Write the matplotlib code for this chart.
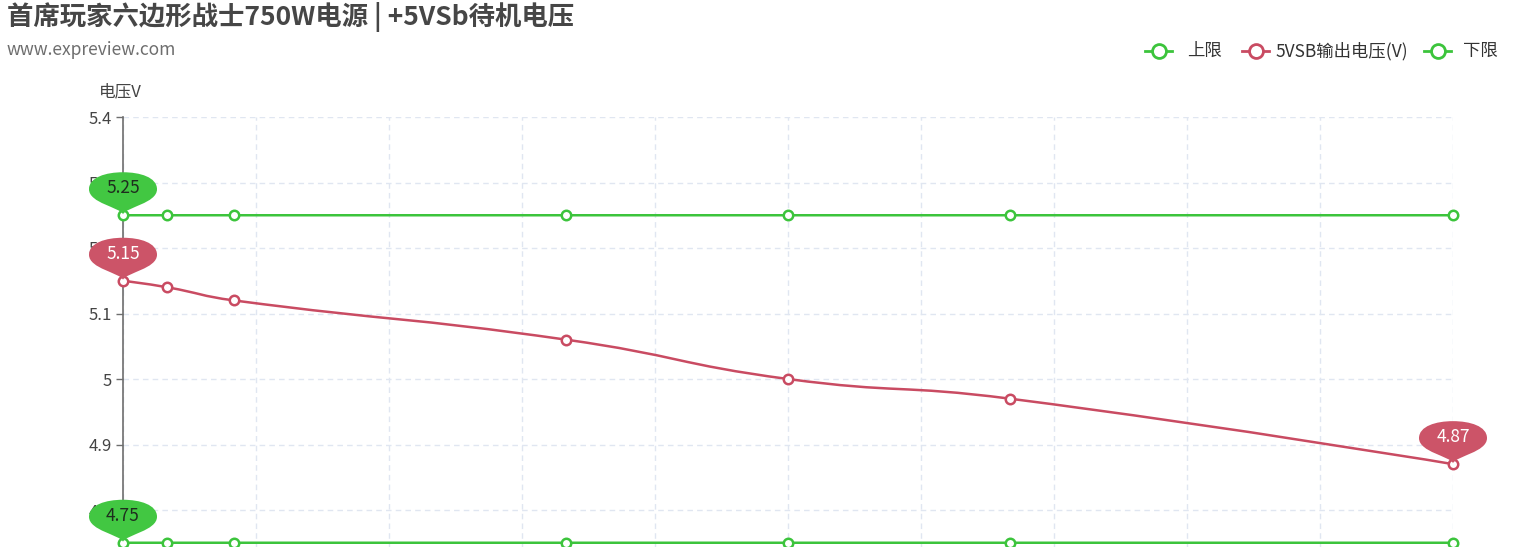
import numpy as np
import matplotlib.pyplot as plt
from matplotlib.lines import Line2D
from matplotlib.path import Path
from matplotlib.patches import PathPatch
import matplotlib.transforms as mtransforms

plt.rcParams['font.family'] = ['Noto Sans CJK SC', 'DejaVu Sans']

# data
current = [0, 0.1, 0.25, 1, 1.5, 2, 3]
upper = [5.25, 5.25, 5.25, 5.25, 5.25, 5.25, 5.25]
vsb = [5.15, 5.14, 5.12, 5.06, 5.00, 4.97, 4.87]
lower = [4.75, 4.75, 4.75, 4.75, 4.75, 4.75, 4.75]
yticks = [4.8, 4.9, 5.0, 5.1, 5.2, 5.3, 5.4]
ytick_labels = ['4.8', '4.9', '5', '5.1', '5.2', '5.3', '5.4']

title = '首席玩家六边形战士750W电源 | +5VSb待机电压'
subtitle = 'www.expreview.com'
legend_names = ['上限', '5VSB输出电压(V)', '下限']

GREEN = '#3cc43c'
RED = '#c94b62'
W, H = 1539, 547

fig = plt.figure(figsize=(W / 100, H / 100), dpi=100)
# plot area: x 123..1453 px, 5.4 at y=117, 4.7 at y=575.5 (below the picture edge)
ax = fig.add_axes([123 / W, (H - 575.5) / H, 1330 / W, 458.5 / H])
ax.set_xlim(0, 3)
ax.set_ylim(4.7, 5.4)

ax.set_xticks(np.arange(0, 3.01, 0.3))
ax.set_yticks(yticks)
ax.set_yticklabels(ytick_labels)
ax.tick_params(axis='y', length=5, width=1, color='#6e6e6e', labelsize=12,
               labelcolor='#444444', pad=3)
ax.tick_params(axis='x', length=0, labelbottom=False)
ax.grid(True, color='#e0e6f1', linestyle=(0, (4, 3)), linewidth=1)
ax.set_axisbelow(True)
for s in ['top', 'right', 'bottom']:
    ax.spines[s].set_visible(False)
ax.spines['left'].set_color('#6e6e6e')
ax.spines['left'].set_linewidth(1.2)

ax.text(-0.006, 5.425, '电压V', ha='center', va='bottom', fontsize=12,
        color='#444444', transform=ax.transData)


def smooth_path(xs, ys, s=0.5):
    # bezier through the points, control points like echarts' smooth line
    P = ax.transData.transform(np.column_stack([xs, ys]))
    n = len(P)
    verts = [P[0]]
    codes = [Path.MOVETO]
    cps = []
    for i in range(n):
        if i == 0 or i == n - 1:
            cps.append((P[i], P[i]))
            continue
        v = P[i + 1] - P[i - 1]
        d0 = np.hypot(*(P[i] - P[i - 1]))
        d1 = np.hypot(*(P[i + 1] - P[i]))
        tot = d0 + d1
        cps.append((P[i] - v * s * d0 / tot, P[i] + v * s * d1 / tot))
    for i in range(1, n):
        verts += [cps[i - 1][1], cps[i][0], P[i]]
        codes += [Path.CURVE4] * 3
    verts = ax.transData.inverted().transform(np.array(verts))
    return Path(verts, codes)


for ys, col in [(upper, GREEN), (vsb, RED), (lower, GREEN)]:
    ax.add_patch(PathPatch(smooth_path(current, ys), facecolor='none',
                           edgecolor=col, lw=1.8, zorder=3, clip_on=False))
    ax.plot(current, ys, linestyle='none', marker='o', ms=6.8, mfc='white',
            mec=col, mew=1.8, zorder=4, clip_on=False)

# pin balloon (pixel offsets from the point)
pin_verts = [(0, 1), (-3, 8), (-34, 12), (-34, 26), (-34, 38), (-17, 43), (0, 43),
             (17, 43), (34, 38), (34, 26), (34, 12), (3, 8), (0, 1), (0, 1)]
pin_codes = [Path.MOVETO] + [Path.CURVE4] * 12 + [Path.CLOSEPOLY]
pin = Path(pin_verts, pin_codes)


def mark_point(x, y, col, txt_col):
    tr = mtransforms.Affine2D() + mtransforms.ScaledTranslation(x, y, ax.transData)
    ax.add_patch(PathPatch(pin, facecolor=col, edgecolor='none', zorder=6,
                           transform=tr, clip_on=False))
    ax.text(0, 27, f'{y:g}', ha='center', va='center', fontsize=12.5, color=txt_col,
            transform=tr, zorder=7, clip_on=False)


mark_point(current[0], upper[0], '#42c742', '#1e2e1e')
mark_point(current[0], vsb[0], '#cc5468', 'white')
mark_point(current[-1], vsb[-1], '#cc5468', 'white')
mark_point(current[0], lower[0], '#42c742', '#1e2e1e')

fig.text(7 / W, 1 - 17 / H, title, fontsize=19, fontweight='bold', color='#464646',
         va='center', ha='left')
fig.text(7 / W, 1 - 50 / H, subtitle, fontsize=12.5, color='#6e6e6e',
         va='center', ha='left')

# legend
leg_y = 1 - 51 / H
leg_items = [(1145, 1187, GREEN), (1242, 1275, RED), (1424, 1463, GREEN)]
for (ix, tx, col), name in zip(leg_items, legend_names):
    fig.add_artist(Line2D([ix / W, (ix + 27) / W], [leg_y, leg_y], color=col, lw=2,
                          transform=fig.transFigure))
    fig.add_artist(Line2D([(ix + 13.5) / W], [leg_y], marker='o', ms=10, mfc='white',
                          mec=col, mew=2, transform=fig.transFigure))
    fig.text(tx / W, leg_y, name, fontsize=12.5, color='#333333', va='center', ha='left')

fig.savefig('out.png', dpi=100)
